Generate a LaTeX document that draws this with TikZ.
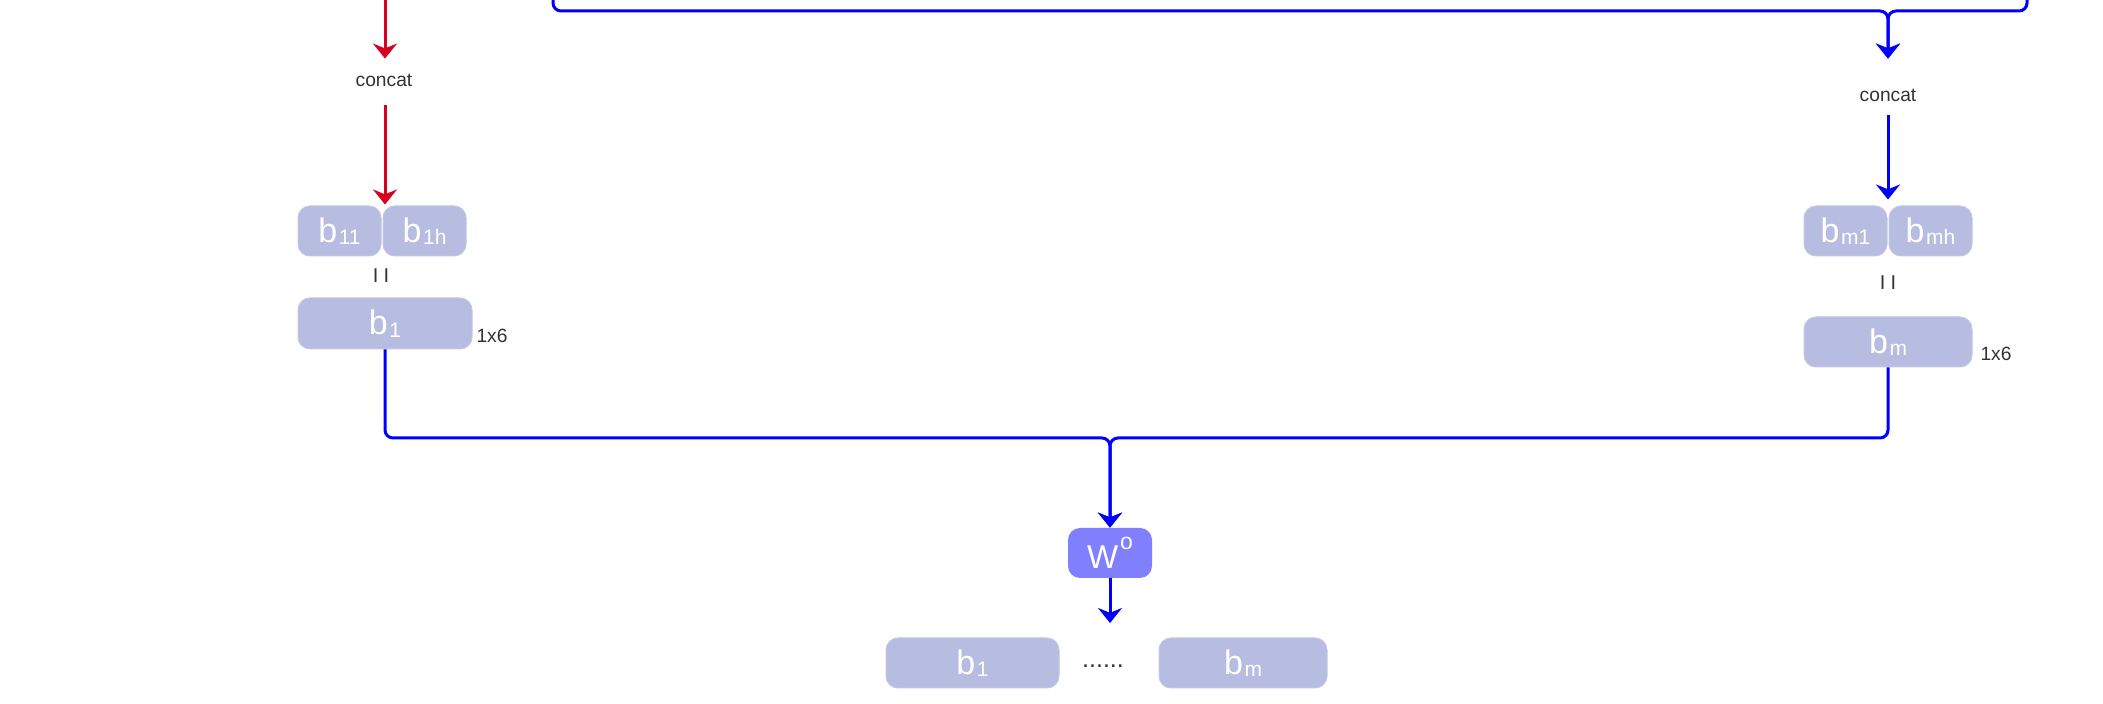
\documentclass[tikz,border=0pt]{standalone}
\usepackage{fontspec}
\setmainfont{Liberation Sans}
\usetikzlibrary{arrows.meta,calc}
\definecolor{boxfill}{HTML}{B7BDE0}
\definecolor{wfill}{HTML}{8080FF}
\definecolor{lblue}{HTML}{0000FF}
\definecolor{lred}{HTML}{D80021}
\definecolor{txt}{HTML}{333333}
\newcommand{\bsub}[2]{{\fontsize{17}{17}\selectfont #1}\hspace{0.8pt}\raisebox{-1.2pt}{\fontsize{10.5}{10.5}\selectfont #2}}
\tikzset{
  vbox/.style={fill=boxfill, draw=boxfill!85!white, line width=0.5pt, rounded corners=6pt, text=white, inner sep=0pt, minimum height=25pt, align=center},
  wbox/.style={fill=wfill, draw=none, rounded corners=6pt, text=white, inner sep=0pt, minimum height=25pt, minimum width=42pt},
  lbl/.style={text=txt, inner sep=0pt, font=\fontsize{9.6}{10}\selectfont, text height=7pt, text depth=2pt},
  tip/.style={-{Stealth[length=7.5pt, width=12pt, inset=2.4pt]}},
  bline/.style={draw=lblue, line width=1.5pt, rounded corners=4pt},
  rline/.style={draw=lred, line width=1.5pt},
}
\begin{document}
\begin{tikzpicture}[x=0.5pt,y=-0.5pt]
\useasboundingbox[fill=white] (0,0) rectangle (2103,704);

% left column
\node[lbl] (c1) at (384,82) {concat};
\node[vbox, minimum width=41.5pt] (b11) at (339.5,231) {\bsub{b}{11}};
\node[vbox, minimum width=41.5pt] (b1h) at (424.5,231) {\bsub{b}{1h}};
\node[lbl, font=\fontsize{10}{10}\selectfont] (eq1) at (381,278) {I\hspace{2.6pt}I};
\node[vbox, minimum width=87pt, minimum height=25.5pt] (b1) at (385,323.5) {\bsub{b}{1}};
\node[lbl] (d1) at (492,338) {1x6};

% right column
\node[lbl] (c2) at (1888,97) {concat};
\node[vbox, minimum width=41.5pt] (bm1) at (1845.5,231) {\bsub{b}{m1}};
\node[vbox, minimum width=41.5pt] (bmh) at (1930.5,231) {\bsub{b}{mh}};
\node[lbl, font=\fontsize{10}{10}\selectfont] (eq2) at (1888,285) {I\hspace{2.6pt}I};
\node[vbox, minimum width=84pt] (bm) at (1888,342) {\bsub{b}{m}};
\node[lbl] (d2) at (1996,356) {1x6};

% bottom
\node[wbox] (wo) at (1110,553) {{\fontsize{16.5}{16.5}\selectfont W}\hspace{1pt}\raisebox{9.5pt}{\fontsize{11.5}{11.5}\selectfont o}};
\node[vbox, minimum width=86.5pt] (o1) at (972.5,663) {\bsub{b}{1}};
\node[lbl, font=\fontsize{12.5}{13}\selectfont] (dots) at (1103,663) {......};
\node[vbox, minimum width=84pt] (om) at (1243,663) {\bsub{b}{m}};

% coordinates
\coordinate (rtop) at (385,-5);
\coordinate (ltop) at (553,-5);
\coordinate (rrtop) at (2027,-5);
\coordinate (j2) at (1888,11);
\coordinate (j3) at (1110,438);
\coordinate (wout) at (1110,623);

% red connectors
\draw[rline, tip, shorten >=7pt] (rtop) -- (rtop |- c1.north);
\draw[rline, tip, shorten <=7pt, shorten >=0.5pt] (c1.south -| rtop) -- (rtop |- b11.north);

% blue top connectors
\draw[bline, tip, shorten >=14.5pt] (ltop) |- (j2) -- (c2.north);
\draw[bline, tip, shorten >=14.5pt] (rrtop) |- (j2) -- (c2.north);
\draw[bline, tip, shorten <=4.5pt, shorten >=3pt] (c2.south) -- (c2.south |- bm1.north);

% blue bottom connectors
\draw[bline, tip] (b1.south) |- (j3) -- (wo.north);
\draw[bline, tip] (bm.south) |- (j3) -- (wo.north);
\draw[bline, tip] (wo.south) -- (wout);
\end{tikzpicture}
\end{document}
